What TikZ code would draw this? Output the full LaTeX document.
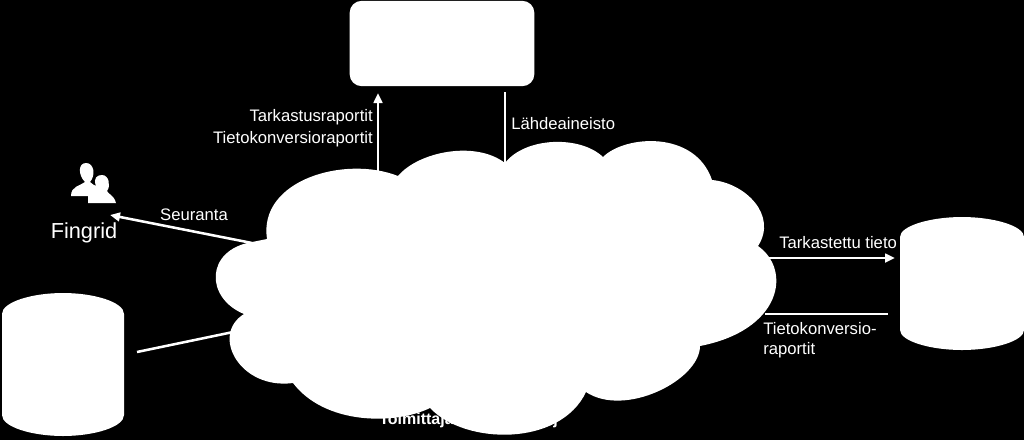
\documentclass[tikz,border=0pt]{standalone}
\usepackage{fontspec}
\setmainfont{Liberation Sans}
\usetikzlibrary{arrows.meta}
\tikzset{
 lbl/.style={text=white,font=\fontsize{12.5pt}{15pt}\selectfont,inner sep=0pt},
 conn/.style={draw=white,line width=1.9pt},
 arr/.style={conn,-{Triangle[length=7.5pt,width=6.5pt]}},
 shapefill/.style={fill=white,draw=none}
}
\begin{document}
\begin{tikzpicture}[x=0.75pt,y=-0.75pt]
\path[use as bounding box,fill=black] (0,0) rectangle (1024,440);
% caption partly hidden by the cloud
\node[lbl,font=\bfseries\fontsize{12pt}{14pt}\selectfont,anchor=west] (sup) at (379,420) {Toimittaja};
\node[lbl,font=\bfseries\fontsize{12pt}{14pt}\selectfont,anchor=east] (supend) at (558,420) {j};
% coordinates on the cloud
\coordinate (c1) at (378,172);
\coordinate (c2) at (505,165);
\coordinate (c3) at (768,258);
\coordinate (c4) at (252,243);
\coordinate (c5) at (238,331);
\coordinate (c6) at (765,314);
% boxes
\node[shapefill,rounded corners=9pt,minimum width=138.5pt,minimum height=64pt,inner sep=0pt] (top) at (442,43.5) {};
\path[shapefill] (900,237) .. controls (900,226) and (930,217) .. (962,217) .. controls (994,217) and (1024,226) .. (1024,237) -- (1024,330) .. controls (1024,341) and (994,350) .. (962,350) .. controls (930,350) and (900,341) .. (900,330) -- cycle;
\path[shapefill] (2,314) .. controls (2,302) and (32,293) .. (63,293) .. controls (94,293) and (124,302) .. (124,314) -- (124,415) .. controls (124,427) and (94,436) .. (63,436) .. controls (32,436) and (2,427) .. (2,415) -- cycle;
% connectors
\coordinate (right) at (895,258);
\coordinate (rightb) at (888,314);
\coordinate (leftc) at (137,352);
\coordinate (topa) at (378,93);
\coordinate (topb) at (505,92);
\coordinate (fing) at (110,215);
\draw[arr] (c1) -- (topa);
\draw[conn] (c2) -- (topb);
\draw[arr] (c4) -- (fing);
\draw[arr] (c3) -- (right);
\draw[conn] (c6) -- (rightb);
\draw[conn] (leftc) -- (c5);
% cloud
\path[shapefill] (398,176)
 .. controls (418,152) and (475,140) .. (505,163)
 .. controls (525,137) and (580,135) .. (603,157)
 .. controls (625,135) and (695,130) .. (712,180)
 .. controls (745,183) and (778,215) .. (758,246)
 .. controls (792,270) and (782,330) .. (700,346)
 .. controls (700,380) and (625,418) .. (586,392)
 .. controls (560,447) and (465,445) .. (430,408)
 .. controls (395,425) and (325,425) .. (293,383)
 .. controls (240,390) and (210,335) .. (244,314)
 .. controls (205,298) and (205,250) .. (252,242)
 -- (267,239)
 .. controls (258,180) and (345,155) .. (398,176) -- cycle;
% person icons
\path[shapefill] (71,196) .. controls (71,186) and (80,186) .. (85,182)
 .. controls (78,175) and (78,163) .. (86,163)
 .. controls (94,163) and (96,175) .. (90,182)
 .. controls (92,184) and (94,185) .. (96,186)
 .. controls (93,178) and (97,175) .. (102,175)
 .. controls (109,175) and (111,186) .. (107,191)
 .. controls (108,194) and (114,195) .. (116,203)
 -- (88,203) -- (88,196) -- cycle;
\node[lbl,font=\fontsize{16.3pt}{18pt}\selectfont] (fingl) at (84,233) {Fingrid};
\node[lbl] (seur) at (194,215) {Seuranta};
\node[lbl,anchor=east] (tark) at (373,117) {Tarkastusraportit};
\node[lbl,anchor=east] (tiet) at (373,139) {Tietokonversioraportit};
\node[lbl,anchor=west] (lahde) at (511,124) {Lähdeaineisto};
\node[lbl,anchor=west] (tt) at (779,243) {Tarkastettu tieto};
\node[lbl,anchor=west,align=left] (tk) at (763,340) {Tietokonversio-\\raportit};
\end{tikzpicture}
\end{document}
